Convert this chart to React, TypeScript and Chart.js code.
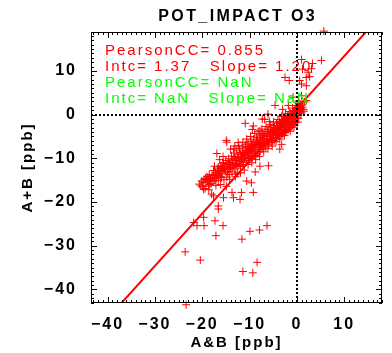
import React, { useEffect, useRef } from 'react';
import { Chart, registerables } from 'chart.js';

Chart.register(...registerables);

const chartTitle = 'POT_IMPACT O3';
const xAxisLabel = 'A&B [ppb]';
const yAxisLabel = 'A+B [ppb]';
const xRange = [-43.5, 18.0];
const yRange = [-43.1, 18.9];
const xTickValues = [-40, -30, -20, -10, 0, 10];
const yTickValues = [-40, -30, -20, -10, 0, 10];
const fitIntercept = 1.37;
const fitSlope = 1.2;
const statLines = ['PearsonCC= 0.855', 'Intc= 1.37   Slope= 1.20', 'PearsonCC= NaN', 'Intc= NaN   Slope= NaN'];
const statColors = ['#ff0000', '#ff0000', '#00ff00', '#00ff00'];

const bandPoints: [number, number][] = [
  [-20.6, -15.9], [-20.1, -15.2], [-19.9, -16.5], [-19.6, -14.8], [-19.4, -16.9], [-19.2, -15.6], [-19.0, -14.2],
  [-18.8, -15.1], [-18.7, -16.3], [-18.5, -13.7], [-18.3, -14.5], [-18.1, -15.8], [-17.9, -13.9], [-17.7, -15.2],
  [-17.6, -12.8], [-17.4, -14.6], [-17.2, -13.3], [-17.1, -16.2], [-16.9, -13.8], [-16.7, -12.4], [-16.6, -15.1],
  [-16.4, -12.9], [-16.2, -14.2], [-16.1, -11.7], [-15.9, -12.3], [-15.8, -13.6], [-15.6, -11.1], [-15.4, -14.9],
  [-15.3, -11.9], [-15.1, -13.0], [-15.0, -10.5], [-14.8, -14.3], [-14.7, -11.4], [-14.6, -12.6], [-14.4, -10.1],
  [-14.3, -13.7], [-14.1, -10.9], [-14.0, -12.1], [-13.8, -9.5], [-13.7, -13.1], [-13.5, -10.4], [-13.4, -11.7],
  [-13.3, -8.8], [-13.1, -12.4], [-13.0, -9.9], [-12.8, -11.2], [-12.7, -8.3], [-12.5, -13.4], [-12.4, -9.6],
  [-12.2, -10.7], [-12.1, -7.8], [-11.9, -11.9], [-11.8, -9.1], [-11.6, -10.3], [-11.5, -7.4], [-11.3, -11.4],
  [-11.2, -8.6], [-11.0, -9.8], [-10.9, -6.9], [-10.7, -10.9], [-10.6, -8.2], [-10.4, -9.4], [-10.3, -6.5],
  [-10.1, -10.5], [-10.0, -7.7], [-9.9, -8.9], [-9.7, -6.1], [-9.6, -10.0], [-9.4, -7.2], [-9.3, -8.5],
  [-9.1, -5.6], [-9.0, -9.4], [-8.8, -6.8], [-8.7, -8.0], [-8.5, -5.2], [-8.4, -9.0], [-8.2, -6.3], [-8.1, -7.5],
  [-7.9, -4.7], [-7.8, -8.4], [-7.6, -5.9], [-7.5, -7.1], [-7.3, -4.3], [-7.2, -7.9], [-7.0, -5.4], [-6.9, -6.6],
  [-6.7, -3.8], [-6.6, -7.4], [-6.4, -5.0], [-6.3, -6.2], [-6.1, -3.4], [-6.0, -6.9], [-5.8, -4.5], [-5.7, -5.7],
  [-5.5, -2.9], [-5.4, -6.4], [-5.2, -4.1], [-5.1, -5.2], [-4.9, -2.5], [-4.8, -6.0], [-4.6, -3.6], [-4.5, -4.8],
  [-4.3, -2.0], [-4.2, -5.5], [-4.0, -3.2], [-3.9, -4.3], [-3.7, -1.6], [-3.6, -5.0], [-3.4, -2.7], [-3.3, -3.9],
  [-3.1, -1.1], [-3.0, -4.4], [-2.8, -2.3], [-2.7, -3.4], [-2.5, -0.7], [-2.4, -3.9], [-2.2, -1.8], [-2.1, -2.9],
  [-1.9, -0.2], [-1.8, -3.3], [-1.6, -1.3], [-1.5, -2.4], [-1.3, 0.3], [-1.2, -2.8], [-1.0, -0.8], [-0.9, -1.8],
  [-0.7, 0.8], [-0.6, -2.1], [-0.4, -0.2], [-0.3, -1.2], [-0.1, 1.3], [0.0, -0.6], [0.2, 0.4], [0.3, 1.9],
  [0.5, 0.9], [0.6, 2.5], [0.8, 1.5], [1.0, 0.6], [1.1, 2.2], [1.4, 1.2], [1.6, 2.9],
  [-18.9, -14.7], [-18.2, -15.1], [-17.5, -14.0], [-16.8, -13.2], [-16.0, -12.8], [-15.5, -12.4], [-14.9, -11.8],
  [-14.2, -11.5], [-13.6, -10.9], [-12.9, -10.5], [-12.3, -9.9], [-11.7, -9.6], [-11.1, -9.2], [-10.5, -8.6],
  [-9.8, -7.9], [-9.2, -7.6], [-8.6, -7.1], [-8.0, -6.6], [-7.4, -6.0], [-6.8, -5.5], [-6.2, -4.9], [-5.6, -4.4],
  [-5.0, -3.9], [-4.4, -3.3], [-3.8, -2.8], [-3.2, -2.2], [-2.6, -1.6], [-2.0, -1.1], [-1.4, -0.5], [-0.8, 0.1],
  [-0.2, 0.7], [0.4, 1.3], [-0.5, 0.4], [-1.1, -0.3], [-2.3, -0.9], [-3.5, -2.0], [-4.7, -2.9], [-5.9, -3.9],
  [-7.1, -4.9], [-8.3, -5.8], [-9.5, -6.7], [-10.8, -7.6], [-12.0, -8.7], [-13.2, -9.6], [-14.5, -11.0],
  [-15.7, -11.9], [-16.5, -13.9], [-17.3, -15.0], [-12.6, -11.8], [-11.4, -10.9], [-10.2, -9.9], [-9.0, -8.8],
  [-7.7, -7.6], [-6.5, -6.6], [-5.3, -5.6], [-4.1, -4.6], [-2.9, -3.6], [-1.7, -2.6], [-0.6, -1.5],
];

const bandFillPoints: [number, number][] = [
  [-19.8, -15.4], [-19.3, -14.6], [-18.6, -14.9], [-18.4, -16.0], [-17.8, -14.4], [-17.0, -14.5], [-16.3, -13.4],
  [-16.6, -12.0], [-15.9, -14.4], [-15.2, -12.6], [-14.6, -13.3], [-14.2, -12.3], [-13.9, -11.3], [-13.5, -12.0],
  [-13.0, -11.4], [-12.6, -10.1], [-12.2, -11.6], [-11.8, -10.6], [-11.5, -8.8], [-11.2, -10.1], [-10.8, -9.3],
  [-10.5, -7.3], [-10.2, -8.1], [-9.9, -9.7], [-9.6, -8.3], [-9.3, -6.9], [-9.0, -7.2], [-8.7, -9.4], [-8.5, -6.1],
  [-8.2, -8.6], [-7.9, -6.9], [-7.7, -5.2], [-7.4, -7.3], [-7.2, -6.4], [-6.9, -4.6], [-6.7, -6.9], [-6.4, -5.7],
  [-6.2, -3.9], [-5.9, -6.3], [-5.7, -5.0], [-5.5, -3.4], [-5.2, -5.9], [-5.0, -4.6], [-4.8, -3.1], [-4.5, -5.3],
  [-4.3, -3.9], [-4.1, -2.6], [-3.9, -4.9], [-3.7, -3.5], [-3.5, -1.9], [-3.3, -4.6], [-3.1, -2.9], [-2.9, -1.4],
  [-2.7, -4.1], [-2.5, -2.5], [-2.3, -1.2], [-2.1, -3.6], [-1.9, -2.1], [-1.7, -0.6], [-1.5, -3.0], [-1.3, -1.6],
  [-1.1, 0.1], [-0.9, -2.4], [-0.7, -0.9], [-0.5, 0.9], [-0.3, -1.8], [-0.1, 0.2], [0.1, 1.6], [0.3, -0.9],
  [0.5, 0.6], [0.7, 1.9], [0.9, 0.2], [1.2, 1.7], [1.5, 0.8], [0.4, 2.6], [-0.2, 2.1], [-0.9, 1.5], [-1.6, 0.7],
  [-2.4, 0.2], [-3.2, -0.4], [-4.0, -1.1], [-4.9, -1.7], [-5.6, -2.3], [-6.5, -2.7], [-7.4, -3.3], [-8.2, -3.9],
  [-8.9, -4.3], [-9.8, -5.0], [-10.6, -5.6], [-11.4, -6.3], [-12.3, -7.1], [-13.3, -7.8], [-15.6, -9.6],
  [-16.3, -10.3], [-17.4, -11.8], [-10.3, -11.4], [-9.5, -11.0], [-8.7, -10.3], [-7.9, -9.6], [-7.0, -8.5],
  [-6.1, -7.8], [-5.2, -7.2], [-4.4, -6.2], [-3.6, -5.6], [-2.6, -4.8], [-1.4, -3.8], [-0.6, -2.9], [0.2, -1.7],
  [-14.2, -14.8], [-13.0, -14.2], [-11.9, -13.3], [-16.1, -16.0], [-18.6, -17.2], [-20.3, -16.3],
];

const upperPoints: [number, number][] = [
  [5.7, 19.1], [1.0, 12.6], [3.3, 11.7], [5.2, 12.4], [1.2, 10.4], [2.4, 9.7], [3.1, 10.5], [2.7, 8.7],
  [2.0, 8.5], [-2.5, 8.5], [-1.6, 7.8], [0.6, 7.8], [1.0, 7.0], [2.0, 6.6], [-0.8, 4.0], [1.0, 4.3],
  [2.0, 3.2], [-4.6, 2.1], [-1.8, 2.1], [0.3, 3.1], [-3.0, 1.2], [-6.1, 0.1], [-5.8, -1.6], [-6.8, -1.1],
  [-9.4, -3.4], [-10.9, -2.0], [-7.8, -3.7], [-9.2, -2.6], [-14.0, -7.9], [-16.9, -8.9], [-14.8, -6.3],
  [-13.1, -7.2], [-14.9, -5.9], [-12.4, -6.4], [-7.3, -1.0],
];

const lowerPoints: [number, number][] = [
  [-19.7, -17.1], [-18.0, -18.2], [-17.6, -18.6], [-15.5, -19.0], [-16.6, -20.9], [-16.6, -21.6], [-13.7, -17.8],
  [-12.0, -19.4], [-13.4, -19.0], [-11.7, -17.8], [-9.2, -17.8], [-9.6, -15.6], [-10.6, -15.2], [-8.8, -13.1],
  [-7.8, -11.8], [-6.0, -11.7], [-3.6, -7.9], [-3.2, -6.8], [-1.8, -3.4], [-15.5, -11.0], [-14.9, -16.4],
  [-12.9, -13.6], [-11.1, -12.7], [-17.3, -24.3], [-15.6, -25.4], [-21.8, -24.7], [-21.1, -25.4], [-19.7, -23.5],
  [-19.6, -25.4], [-17.1, -27.7], [-23.6, -31.4], [-20.4, -33.3], [-11.6, -28.5], [-9.9, -26.7], [-7.9, -26.4],
  [-6.3, -25.4], [-8.4, -33.8], [-11.4, -35.9], [-9.3, -36.2], [-23.4, -43.5],
];

const FONT = "'Liberation Sans', Arial, Helvetica, sans-serif";

const fmt = (v: number) => (v < 0 ? '\u2212' + Math.abs(v) : String(v));

const idlPlugin = {
  id: 'idlDecor',
  beforeDraw(chart: any) {
    const ctx = chart.ctx;
    ctx.save();
    ctx.fillStyle = '#ffffff';
    ctx.fillRect(0, 0, chart.width, chart.height);
    ctx.restore();
    ctx.letterSpacing = '2px';
  },
  afterDatasetsDraw(chart: any) {
    const ctx = chart.ctx;
    const { left, right, top, bottom } = chart.chartArea;
    const xs = chart.scales.x;
    const ys = chart.scales.y;
    const x0 = Math.round(xs.getPixelForValue(0));
    const y0 = Math.round(ys.getPixelForValue(0));
    ctx.save();
    ctx.strokeStyle = '#000';
    ctx.lineWidth = 2;
    ctx.setLineDash([2, 2]);
    ctx.beginPath();
    ctx.moveTo(x0, top);
    ctx.lineTo(x0, bottom);
    ctx.moveTo(left, y0);
    ctx.lineTo(right, y0);
    ctx.stroke();
    ctx.restore();
  },
  afterDraw(chart: any) {
    const ctx = chart.ctx;
    const { left, right, top, bottom } = chart.chartArea;
    const xs = chart.scales.x;
    const ys = chart.scales.y;
    ctx.save();
    ctx.strokeStyle = '#000';
    ctx.lineWidth = 1;
    ctx.setLineDash([]);
    ctx.strokeRect(left + 0.5, top + 0.5, right - left - 1, bottom - top - 1);
    ctx.beginPath();
    for (let v = Math.ceil(xRange[0]); v <= Math.floor(xRange[1]); v++) {
      const p = Math.round(xs.getPixelForValue(v)) + 0.5;
      const len = v % 10 === 0 ? 6 : 3;
      ctx.moveTo(p, bottom);
      ctx.lineTo(p, bottom - len);
      ctx.moveTo(p, top);
      ctx.lineTo(p, top + len);
    }
    for (let v = Math.ceil(yRange[0]); v <= Math.floor(yRange[1]); v++) {
      const p = Math.round(ys.getPixelForValue(v)) + 0.5;
      const len = v % 10 === 0 ? 6 : 3;
      ctx.moveTo(left, p);
      ctx.lineTo(left + len, p);
      ctx.moveTo(right, p);
      ctx.lineTo(right - len, p);
    }
    ctx.stroke();

    ctx.fillStyle = '#000';
    ctx.font = `bold 16px ${FONT}`;
    ctx.letterSpacing = '2.4px';
    ctx.textAlign = 'center';
    ctx.textBaseline = 'alphabetic';
    ctx.fillText(chartTitle, (left + right) / 2 + 1.2, 21);

    ctx.font = `15px ${FONT}`;
    ctx.letterSpacing = '2px';
    ctx.textAlign = 'left';
    statLines.forEach((line, i) => {
      ctx.fillStyle = statColors[i];
      ctx.fillText(line, 105, 54.5 + i * 16);
    });
    ctx.restore();
  },
};

export default function App() {
  const canvasRef = useRef<HTMLCanvasElement | null>(null);

  useEffect(() => {
    const canvas = canvasRef.current;
    if (!canvas) return;
    const allPoints = [...bandPoints, ...bandFillPoints, ...upperPoints, ...lowerPoints].map(([x, y]) => ({ x, y }));
    const fitLine = xRange.map((x) => ({ x, y: fitIntercept + fitSlope * x }));
    const tickFont = { family: FONT, size: 16, weight: 'bold' as const };
    const chart = new Chart(canvas, {
      type: 'scatter',
      data: {
        datasets: [
          {
            label: 'A+B vs A&B',
            data: allPoints,
            pointStyle: 'cross',
            pointRadius: 4,
            pointBorderWidth: 1,
            borderColor: '#ff0000',
            backgroundColor: '#ff0000',
            showLine: false,
            clip: false as any,
          },
          {
            label: 'fit',
            type: 'line' as any,
            data: fitLine,
            borderColor: '#ff0000',
            borderWidth: 2,
            pointRadius: 0,
            showLine: true,
            fill: false,
            clip: 0 as any,
          },
        ],
      },
      options: {
        responsive: false,
        animation: false,
        devicePixelRatio: 1,
        layout: { padding: { left: 0, right: 10, top: 32, bottom: 0 } },
        plugins: {
          legend: { display: false },
          tooltip: { enabled: false },
          title: { display: false },
        },
        scales: {
          x: {
            type: 'linear',
            position: 'bottom',
            min: xRange[0],
            max: xRange[1],
            grid: { display: false },
            border: { display: false },
            afterBuildTicks: (scale: any) => {
              scale.ticks = xTickValues.map((v) => ({ value: v }));
            },
            afterFit: (scale: any) => {
              scale.height = 50;
            },
            ticks: {
              color: '#000',
              font: tickFont,
              padding: 4,
              maxRotation: 0,
              autoSkip: false,
              includeBounds: false,
              callback: (v: any) => fmt(Number(v)),
            },
            title: {
              display: true,
              text: xAxisLabel,
              color: '#000',
              font: { family: FONT, size: 15, weight: 'bold' },
              padding: { top: 0, bottom: 1 },
            },
          },
          y: {
            type: 'linear',
            position: 'left',
            min: yRange[0],
            max: yRange[1],
            grid: { display: false },
            border: { display: false },
            afterBuildTicks: (scale: any) => {
              scale.ticks = yTickValues.map((v) => ({ value: v }));
            },
            afterFit: (scale: any) => {
              scale.width = 91;
            },
            ticks: {
              color: '#000',
              font: tickFont,
              padding: 6,
              autoSkip: false,
              includeBounds: false,
              callback: (v: any) => fmt(Number(v)),
            },
            title: {
              display: true,
              text: yAxisLabel,
              color: '#000',
              font: { family: FONT, size: 15, weight: 'bold' },
              padding: { top: 19, bottom: 0 },
            },
          },
        },
      },
      plugins: [idlPlugin],
    });
    return () => chart.destroy();
  }, []);

  return (
    <div style={{ position: 'fixed', left: 0, top: 0, width: 392, height: 353, background: '#fff' }}>
      <canvas ref={canvasRef} width={392} height={353} style={{ display: 'block', width: 392, height: 353 }} />
    </div>
  );
}
